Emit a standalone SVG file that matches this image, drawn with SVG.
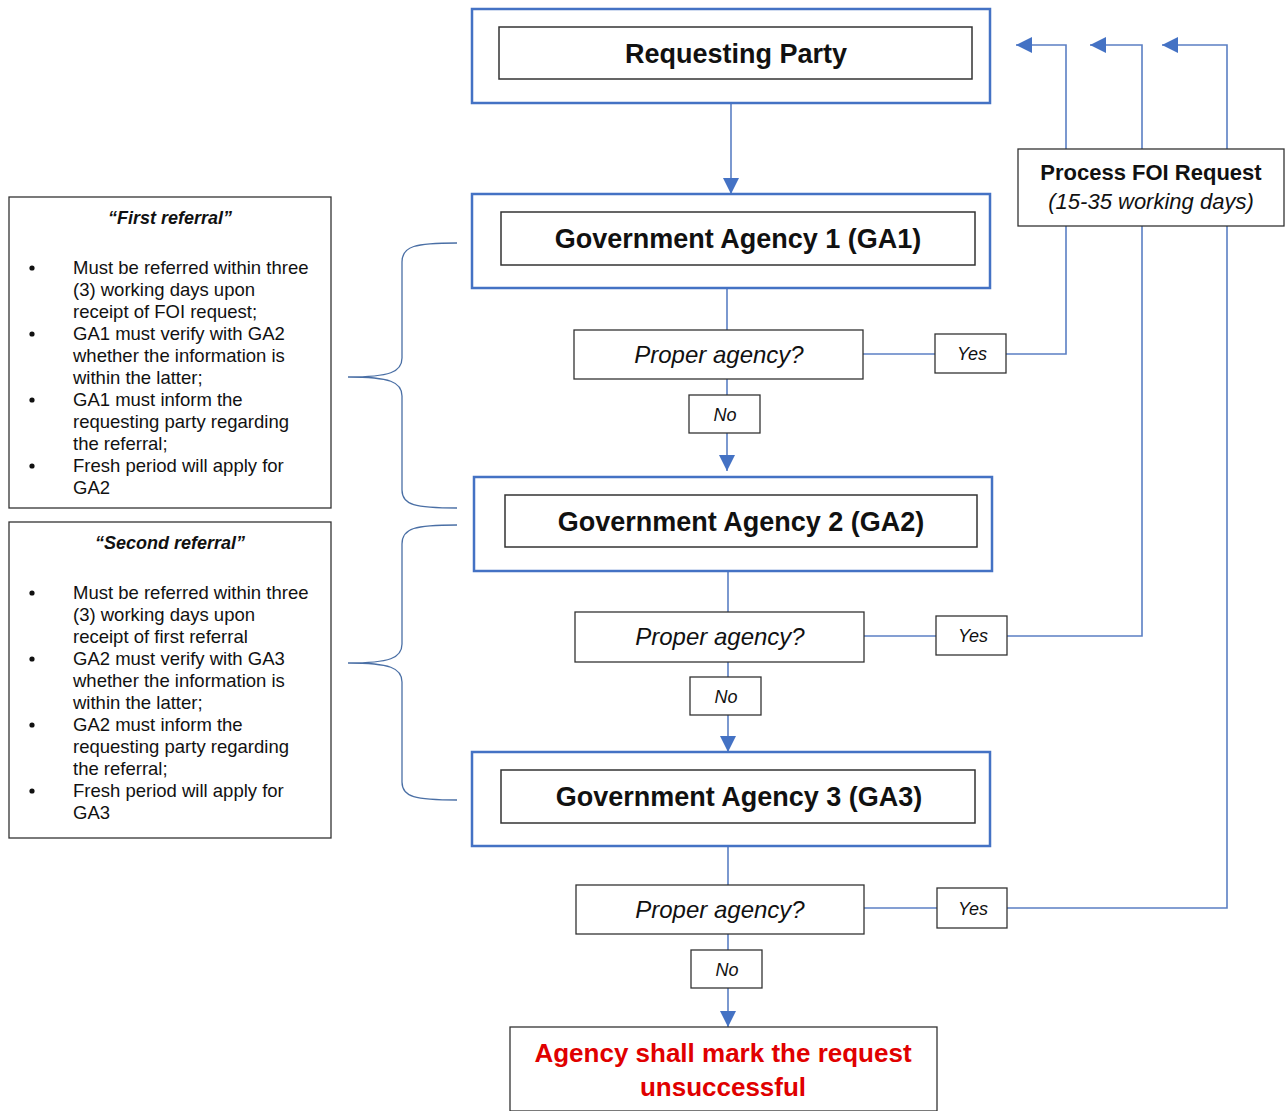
<svg xmlns="http://www.w3.org/2000/svg" width="1286" height="1111" viewBox="0 0 1286 1111">
<style>
.outer{fill:#fff;stroke:#4472C4;stroke-width:2.5}
.inner{fill:#fff;stroke:#333;stroke-width:1.5}
.box{fill:#fff;stroke:#333;stroke-width:1.3}
.con{fill:none;stroke:#5b7fc4;stroke-width:1.6}
.brace{fill:none;stroke:#4a6fa5;stroke-width:1.3}
text{font-family:"Liberation Sans",Arial,sans-serif;fill:#111}
.big{font-size:27px;font-weight:bold;text-anchor:middle}
.q{font-size:24px;font-style:italic;text-anchor:middle}
.yn{font-size:18px;font-style:italic;text-anchor:middle}
.note{font-size:18.5px}
.title{font-size:18px;font-weight:bold;font-style:italic;text-anchor:middle}
.red{font-size:26px;font-weight:bold;fill:#e00000;text-anchor:middle}
.foi{font-size:22px;text-anchor:middle}
</style>
<defs>
<marker id="arrL" viewBox="0 0 10 10" refX="10" refY="5" markerWidth="16" markerHeight="16" markerUnits="userSpaceOnUse" orient="auto">
<path d="M0,0 L10,5 L0,10 z" fill="#4472C4"/>
</marker>
</defs>
<rect width="1286" height="1111" fill="#fff"/>

<g id="connectors">
<line class="con" x1="731" y1="103" x2="731" y2="194" marker-end="url(#arrL)"/>
<line class="con" x1="727" y1="288" x2="727" y2="330"/>
<line class="con" x1="727" y1="379" x2="727" y2="395"/>
<line class="con" x1="727" y1="433" x2="727" y2="471" marker-end="url(#arrL)"/>
<line class="con" x1="728" y1="571" x2="728" y2="612"/>
<line class="con" x1="728" y1="662" x2="728" y2="677"/>
<line class="con" x1="728" y1="715" x2="728" y2="752" marker-end="url(#arrL)"/>
<line class="con" x1="728" y1="846" x2="728" y2="885"/>
<line class="con" x1="728" y1="934" x2="728" y2="950"/>
<line class="con" x1="728" y1="988" x2="728" y2="1027" marker-end="url(#arrL)"/>
<line class="con" x1="863" y1="354" x2="935" y2="354"/>
<polyline class="con" points="1006,354 1066,354 1066,45 1016,45" marker-end="url(#arrL)"/>
<line class="con" x1="864" y1="636" x2="936" y2="636"/>
<polyline class="con" points="1007,636 1142,636 1142,45 1090,45" marker-end="url(#arrL)"/>
<line class="con" x1="864" y1="908" x2="937" y2="908"/>
<polyline class="con" points="1007,908 1227,908 1227,45 1162,45" marker-end="url(#arrL)"/>
<path class="brace" d="M457,243 C415,243 402,246 402,262 L402,358 C402,372 390,377 348,377 C390,377 402,382 402,396 L402,490 C402,505 415,508 457,508"/>
<path class="brace" d="M457,525 C415,525 402,528 402,544 L402,644 C402,658 390,663 348,663 C390,663 402,668 402,682 L402,782 C402,797 415,800 457,800"/>
</g>

<g id="requesting-party">
<rect class="outer" x="472" y="9" width="518" height="94"/>
<rect class="inner" x="499" y="27" width="473" height="52"/>
<text class="big" x="736" y="63">Requesting Party</text>
</g>

<g id="ga1">
<rect class="outer" x="472" y="194" width="518" height="94"/>
<rect class="inner" x="501" y="212" width="474" height="53"/>
<text class="big" x="738" y="248">Government Agency 1 (GA1)</text>
</g>

<g id="q1">
<rect class="box" x="574" y="330" width="289" height="49"/>
<text class="q" x="719" y="363">Proper agency?</text>
</g>
<g id="yes1">
<rect class="box" x="935" y="334" width="71" height="39"/>
<text class="yn" x="972" y="360">Yes</text>
</g>
<g id="no1">
<rect class="box" x="689" y="395" width="71" height="38"/>
<text class="yn" x="725" y="421">No</text>
</g>

<g id="ga2">
<rect class="outer" x="474" y="477" width="518" height="94"/>
<rect class="inner" x="505" y="495" width="472" height="52"/>
<text class="big" x="741" y="531">Government Agency 2 (GA2)</text>
</g>

<g id="q2">
<rect class="box" x="575" y="612" width="289" height="50"/>
<text class="q" x="720" y="645">Proper agency?</text>
</g>
<g id="yes2">
<rect class="box" x="936" y="616" width="71" height="39"/>
<text class="yn" x="973" y="642">Yes</text>
</g>
<g id="no2">
<rect class="box" x="690" y="677" width="71" height="38"/>
<text class="yn" x="726" y="703">No</text>
</g>

<g id="ga3">
<rect class="outer" x="472" y="752" width="518" height="94"/>
<rect class="inner" x="501" y="770" width="474" height="53"/>
<text class="big" x="739" y="806">Government Agency 3 (GA3)</text>
</g>

<g id="q3">
<rect class="box" x="576" y="885" width="288" height="49"/>
<text class="q" x="720" y="918">Proper agency?</text>
</g>
<g id="yes3">
<rect class="box" x="937" y="888" width="70" height="40"/>
<text class="yn" x="973" y="915">Yes</text>
</g>
<g id="no3">
<rect class="box" x="691" y="950" width="71" height="38"/>
<text class="yn" x="727" y="976">No</text>
</g>

<g id="unsuccessful">
<rect class="box" x="510" y="1027" width="427" height="84"/>
<text class="red" x="723" y="1062">Agency shall mark the request</text>
<text class="red" x="723" y="1096">unsuccessful</text>
</g>

<g id="process-foi">
<rect class="box" x="1018" y="149" width="266" height="77"/>
<text class="foi" x="1151" y="180" font-weight="bold">Process FOI Request</text>
<text class="foi" x="1151" y="209" font-style="italic" fill="#222">(15-35 working days)</text>
</g>

<g id="first-referral">
<rect class="box" x="9" y="197" width="322" height="311"/>
<text class="title" x="170" y="224">“First referral”</text>
<circle cx="32" cy="268" r="2.6" fill="#111"/>
<circle cx="32" cy="334" r="2.6" fill="#111"/>
<circle cx="32" cy="400" r="2.6" fill="#111"/>
<circle cx="32" cy="466" r="2.6" fill="#111"/>
<text class="note" x="73" y="274">Must be referred within three</text>
<text class="note" x="73" y="296">(3) working days upon</text>
<text class="note" x="73" y="318">receipt of FOI request;</text>
<text class="note" x="73" y="340">GA1 must verify with GA2</text>
<text class="note" x="73" y="362">whether the information is</text>
<text class="note" x="73" y="384">within the latter;</text>
<text class="note" x="73" y="406">GA1 must inform the</text>
<text class="note" x="73" y="428">requesting party regarding</text>
<text class="note" x="73" y="450">the referral;</text>
<text class="note" x="73" y="472">Fresh period will apply for</text>
<text class="note" x="73" y="494">GA2</text>
</g>

<g id="second-referral">
<rect class="box" x="9" y="522" width="322" height="316"/>
<text class="title" x="170" y="549">“Second referral”</text>
<circle cx="32" cy="593" r="2.6" fill="#111"/>
<circle cx="32" cy="659" r="2.6" fill="#111"/>
<circle cx="32" cy="725" r="2.6" fill="#111"/>
<circle cx="32" cy="791" r="2.6" fill="#111"/>
<text class="note" x="73" y="599">Must be referred within three</text>
<text class="note" x="73" y="621">(3) working days upon</text>
<text class="note" x="73" y="643">receipt of first referral</text>
<text class="note" x="73" y="665">GA2 must verify with GA3</text>
<text class="note" x="73" y="687">whether the information is</text>
<text class="note" x="73" y="709">within the latter;</text>
<text class="note" x="73" y="731">GA2 must inform the</text>
<text class="note" x="73" y="753">requesting party regarding</text>
<text class="note" x="73" y="775">the referral;</text>
<text class="note" x="73" y="797">Fresh period will apply for</text>
<text class="note" x="73" y="819">GA3</text>
</g>
</svg>
